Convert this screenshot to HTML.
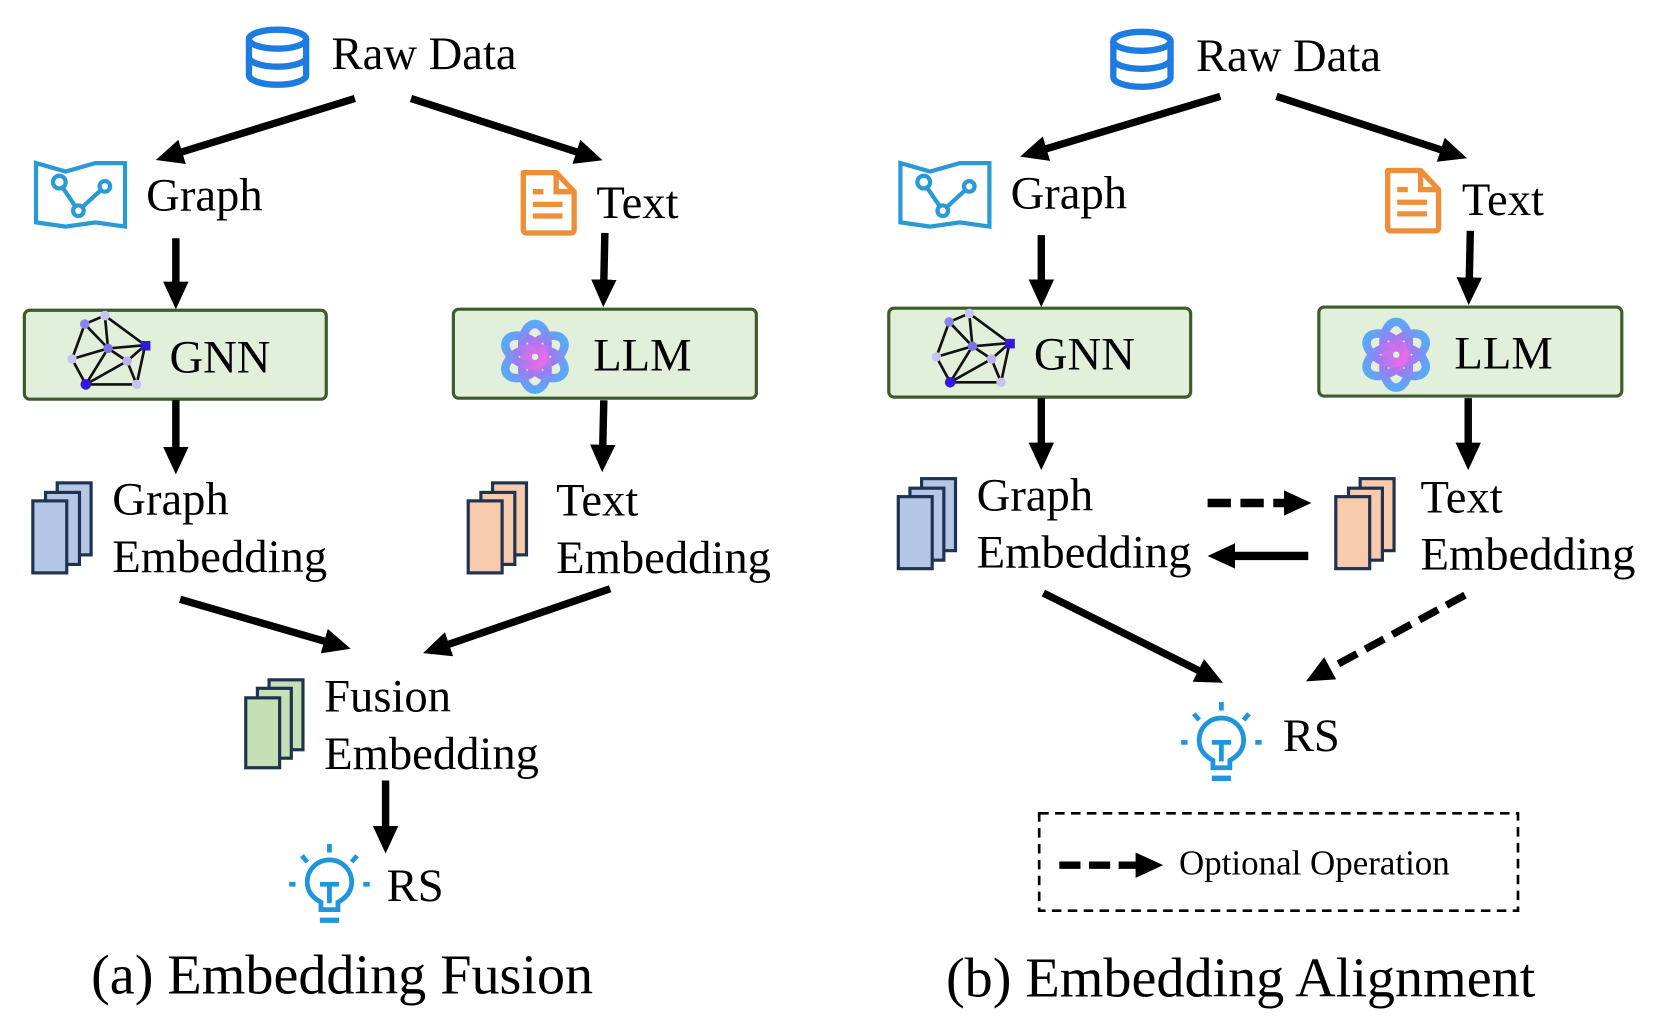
<!DOCTYPE html>
<html><head><meta charset="utf-8"><style>
html,body{margin:0;padding:0;background:#fff;}
svg{display:block;}
text{font-family:"Liberation Serif","Times New Roman",serif;fill:#000;}
</style></head><body>
<svg width="1661" height="1024" viewBox="0 0 1568 967" preserveAspectRatio="none" xmlns="http://www.w3.org/2000/svg" font-family="Liberation Serif, Times New Roman, serif">
<defs>
<marker id="ah" markerUnits="userSpaceOnUse" markerWidth="30" markerHeight="30" refX="2" refY="12" orient="auto">
<path d="M0,0 L26,12 L0,24 Z" fill="#000"/>
</marker>
<linearGradient id="lg" x1="0" y1="0" x2="0" y2="1">
<stop offset="0" stop-color="#5aa9f5"/><stop offset="0.5" stop-color="#9b7cf0"/><stop offset="1" stop-color="#e36ee8"/>
</linearGradient>
<g id="db">
<ellipse cx="30" cy="12" rx="27" ry="9" fill="none" stroke="#1e7be0" stroke-width="6"/>
<path d="M3,12 V46 A27,9 0 0 0 57,46 V12" fill="none" stroke="#1e7be0" stroke-width="6"/>
<path d="M3,29 A27,9 0 0 0 57,29" fill="none" stroke="#1e7be0" stroke-width="6"/>
</g>
<g id="gmap">
<path d="M2,2 L30,10 L58,2 L86,2 L86,62 L58,58 L30,62 L2,58 Z" fill="none" stroke="#2a9ad5" stroke-width="4"/>
<path d="M25,22 L42,47 L66,25" fill="none" stroke="#2a9ad5" stroke-width="4"/>
<circle cx="24" cy="20" r="6" fill="#fff" stroke="#2a9ad5" stroke-width="4"/>
<circle cx="42" cy="47" r="5" fill="#fff" stroke="#2a9ad5" stroke-width="4"/>
<circle cx="67" cy="24" r="5" fill="#fff" stroke="#2a9ad5" stroke-width="4"/>
</g>
<g id="doc">
<path d="M5,4 H36 L53,22 V58 Q53,61 50,61 H8 Q5,61 5,58 Z" fill="none" stroke="#ee8e38" stroke-width="5" stroke-linejoin="round"/>
<path d="M36,4 V22 H53" fill="none" stroke="#ee8e38" stroke-width="5"/>
<path d="M14,22 H24 M14,34 H42 M14,45 H42" stroke="#ee8e38" stroke-width="5"/>
</g>
<g id="gnn" stroke="#111" stroke-width="2.5">
<path d="M16,10 L35,2 M16,10 L38,33 M16,10 L4,43 M35,2 L38,33 M35,2 L73,30 M38,33 L73,30 M38,33 L4,43 M38,33 L17,67 M38,33 L56,45 M4,43 L17,67 M56,45 L73,30 M56,45 L17,67 M17,67 L65,67 M65,67 L73,30 M56,45 L65,67" fill="none"/>
<g stroke="none">
<circle cx="16" cy="10" r="4.5" fill="#8b84e8"/><circle cx="35" cy="2" r="4.5" fill="#c8c4f0"/>
<circle cx="38" cy="33" r="4.5" fill="#7d74e0"/><circle cx="4" cy="43" r="4.5" fill="#c8c4f0"/>
<circle cx="56" cy="45" r="4.5" fill="#b9b4ee"/><rect x="69" y="26" width="9" height="9" fill="#3418d8"/>
<circle cx="17" cy="67" r="5" fill="#3418d8"/><circle cx="65" cy="67" r="4.5" fill="#c8c4f0"/>
</g>
</g>
<g id="llm" fill="none" stroke="url(#lg)" stroke-width="8">
<ellipse cx="0" cy="-12" rx="12" ry="19" transform="rotate(0)"/>
<ellipse cx="0" cy="-12" rx="12" ry="19" transform="rotate(60)"/>
<ellipse cx="0" cy="-12" rx="12" ry="19" transform="rotate(120)"/>
<ellipse cx="0" cy="-12" rx="12" ry="19" transform="rotate(180)"/>
<ellipse cx="0" cy="-12" rx="12" ry="19" transform="rotate(240)"/>
<ellipse cx="0" cy="-12" rx="12" ry="19" transform="rotate(300)"/>
</g>
<g id="bulb" fill="none" stroke="#1e95dc" stroke-width="4.5">
<path d="M30,62 V55 Q17,48 17,36 A21,21 0 1 1 59,36 Q59,48 46,55 V62 Z"/>
<path d="M29,72 H47" stroke-width="5"/>
<path d="M29,38 H47 M38,38 V56"/>
<path d="M38,0 V8 M12,11 L17,17 M64,11 L59,17 M0,38 H6 M70,38 H76"/>
</g>
</defs>

<!-- LEFT PANEL -->
<use href="#db" x="232" y="25"/>
<text x="313" y="65" font-size="44">Raw Data</text>
<line x1="335" y1="93" x2="170" y2="144" stroke="#000" stroke-width="7" marker-end="url(#ah)"/>
<line x1="388" y1="93" x2="546" y2="144" stroke="#000" stroke-width="7" marker-end="url(#ah)"/>
<use href="#gmap" x="32" y="152"/>
<text x="138" y="199" font-size="44">Graph</text>
<use href="#doc" x="489" y="159"/>
<text x="563" y="206" font-size="44">Text</text>
<line x1="166" y1="225" x2="166" y2="268" stroke="#000" stroke-width="7" marker-end="url(#ah)"/>
<line x1="571" y1="220" x2="570" y2="266" stroke="#000" stroke-width="7" marker-end="url(#ah)"/>
<rect x="23" y="293" width="285" height="84" rx="5" fill="#e2efda" stroke="#3d5b2b" stroke-width="3"/>
<use href="#gnn" x="64" y="296"/>
<text x="160" y="352" font-size="44">GNN</text>
<rect x="428" y="292" width="286" height="84" rx="5" fill="#e2efda" stroke="#3d5b2b" stroke-width="3"/>
<use href="#llm" x="505" y="337"/>
<text x="560" y="350" font-size="44">LLM</text>
<line x1="166" y1="378" x2="166" y2="424" stroke="#000" stroke-width="7" marker-end="url(#ah)"/>
<line x1="570" y1="378" x2="569" y2="422" stroke="#000" stroke-width="7" marker-end="url(#ah)"/>
<g stroke="#1f3350" stroke-width="3" fill="#b4c7e7">
<rect x="54" y="456" width="32" height="68"/><rect x="43" y="465" width="32" height="68"/><rect x="31" y="473" width="32" height="68"/>
</g>
<text x="106" y="486" font-size="44">Graph</text>
<text x="106" y="540" font-size="44">Embedding</text>
<g stroke="#1f3350" stroke-width="3" fill="#f8cbad">
<rect x="465" y="456" width="32" height="68"/><rect x="454" y="465" width="32" height="68"/><rect x="442" y="473" width="32" height="68"/>
</g>
<text x="525" y="487" font-size="44">Text</text>
<text x="525" y="541" font-size="44">Embedding</text>
<line x1="170" y1="566" x2="308" y2="606" stroke="#000" stroke-width="7" marker-end="url(#ah)"/>
<line x1="576" y1="556" x2="422" y2="609" stroke="#000" stroke-width="7" marker-end="url(#ah)"/>
<g stroke="#1f3350" stroke-width="3" fill="#c5e0b4">
<rect x="254" y="642" width="32" height="66"/><rect x="243" y="650" width="32" height="66"/><rect x="232" y="659" width="32" height="66"/>
</g>
<text x="306" y="672" font-size="44">Fusion</text>
<text x="306" y="726" font-size="44">Embedding</text>
<line x1="364" y1="737" x2="364" y2="782" stroke="#000" stroke-width="7" marker-end="url(#ah)"/>
<use href="#bulb" x="273" y="797"/>
<text x="365" y="851" font-size="44">RS</text>
<text x="86" y="938" font-size="53">(a) Embedding Fusion</text>

<!-- RIGHT PANEL -->
<use href="#db" x="1048" y="27"/>
<text x="1129" y="67" font-size="44">Raw Data</text>
<line x1="1152" y1="91" x2="986" y2="141" stroke="#000" stroke-width="7" marker-end="url(#ah)"/>
<line x1="1205" y1="91" x2="1362" y2="142" stroke="#000" stroke-width="7" marker-end="url(#ah)"/>
<use href="#gmap" x="848" y="152"/>
<text x="954" y="197" font-size="44">Graph</text>
<use href="#doc" x="1305" y="157"/>
<text x="1380" y="203" font-size="44">Text</text>
<line x1="983" y1="222" x2="983" y2="266" stroke="#000" stroke-width="7" marker-end="url(#ah)"/>
<line x1="1388" y1="218" x2="1387" y2="264" stroke="#000" stroke-width="7" marker-end="url(#ah)"/>
<rect x="839" y="291" width="285" height="84" rx="5" fill="#e2efda" stroke="#3d5b2b" stroke-width="3"/>
<use href="#gnn" x="880" y="294"/>
<text x="976" y="349" font-size="44">GNN</text>
<rect x="1245" y="290" width="286" height="84" rx="5" fill="#e2efda" stroke="#3d5b2b" stroke-width="3"/>
<use href="#llm" x="1318" y="335"/>
<text x="1373" y="348" font-size="44">LLM</text>
<line x1="983" y1="376" x2="983" y2="420" stroke="#000" stroke-width="7" marker-end="url(#ah)"/>
<line x1="1386" y1="376" x2="1386" y2="420" stroke="#000" stroke-width="7" marker-end="url(#ah)"/>
<g stroke="#1f3350" stroke-width="3" fill="#b4c7e7">
<rect x="870" y="452" width="32" height="68"/><rect x="859" y="461" width="32" height="68"/><rect x="848" y="469" width="32" height="68"/>
</g>
<text x="922" y="482" font-size="44">Graph</text>
<text x="922" y="536" font-size="44">Embedding</text>
<g stroke="#1f3350" stroke-width="3" fill="#f8cbad">
<rect x="1284" y="452" width="32" height="68"/><rect x="1273" y="461" width="32" height="68"/><rect x="1261" y="469" width="32" height="68"/>
</g>
<text x="1341" y="484" font-size="44">Text</text>
<text x="1341" y="538" font-size="44">Embedding</text>
<line x1="1140" y1="475" x2="1214" y2="475" stroke="#000" stroke-width="8" stroke-dasharray="22,9" marker-end="url(#ah)"/>
<line x1="1235" y1="525" x2="1164" y2="525" stroke="#000" stroke-width="8" marker-end="url(#ah)"/>
<line x1="985" y1="560" x2="1133" y2="634" stroke="#000" stroke-width="7" marker-end="url(#ah)"/>
<line x1="1383" y1="562" x2="1254" y2="632" stroke="#000" stroke-width="7" stroke-dasharray="20,9" marker-end="url(#ah)"/>
<use href="#bulb" x="1115" y="663"/>
<text x="1211" y="709" font-size="44">RS</text>
<rect x="981" y="768" width="452" height="92" fill="none" stroke="#000" stroke-width="2.5" stroke-dasharray="9,6"/>
<line x1="1000" y1="817" x2="1074" y2="817" stroke="#000" stroke-width="7" stroke-dasharray="20,8" marker-end="url(#ah)"/>
<text x="1113" y="826" font-size="33">Optional Operation</text>
<text x="893" y="941" font-size="53">(b) Embedding Alignment</text>
</svg>
</body></html>
